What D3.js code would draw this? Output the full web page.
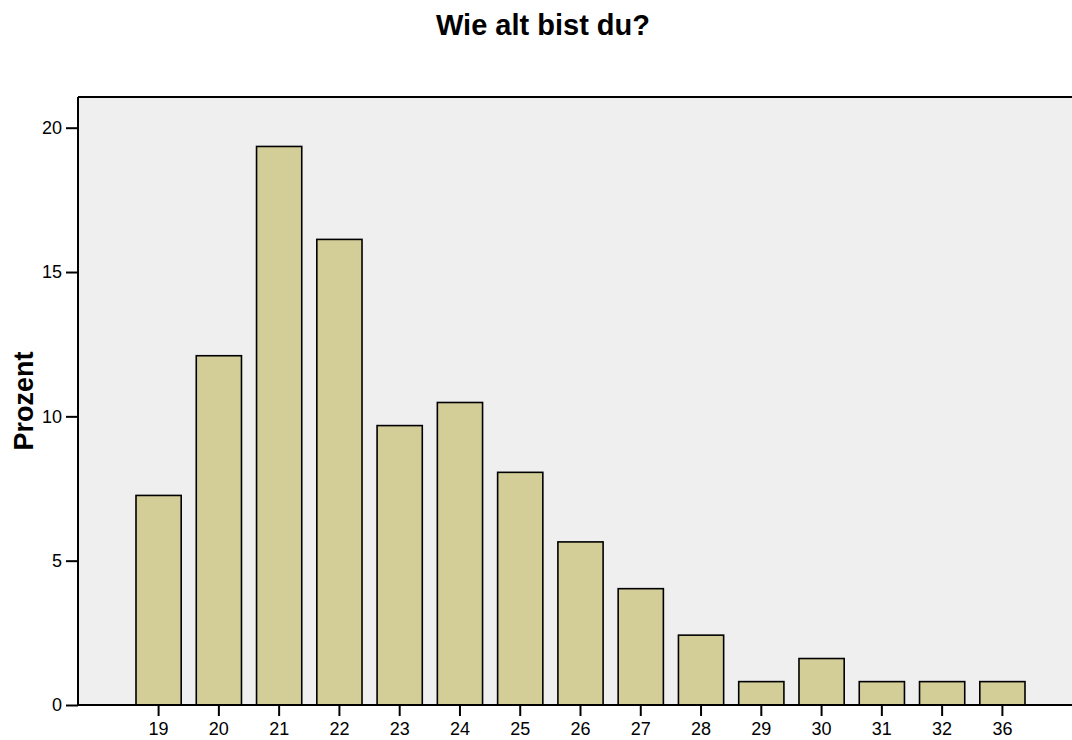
<!DOCTYPE html>
<html>
<head>
<meta charset="utf-8">
<script src="https://cdn.jsdelivr.net/npm/d3@7"></script>
<style>
  body { margin: 0; background: #fff; }
  svg { display: block; font-family: "Liberation Sans", Arial, sans-serif; }
</style>
</head>
<body>
<svg id="chart" width="1072" height="740"></svg>
<script>
// Daten: Alter und Prozent
const ages = ['19', '20', '21', '22', '23', '24', '25', '26', '27', '28', '29', '30', '31', '32', '36']
const percents = [7.26, 12.10, 19.35, 16.13, 9.68, 10.48, 8.06, 5.65, 4.03, 2.42, 0.81, 1.61, 0.81, 0.81, 0.81]
const yTicks = [0, 5, 10, 15, 20]

const svg = d3.select('#chart')

// Plotbereich
const plot = { left: 78, top: 97, right: 1072, bottom: 705 }

const x = d3.scaleBand()
  .domain(ages)
  .range([136, 1025])
  .paddingInner(0.25)
  .paddingOuter(0)

const y = d3.scaleLinear()
  .domain([0, 20])
  .range([plot.bottom, 127.7])

// Hintergrund
svg.append('rect')
  .attr('x', plot.left)
  .attr('y', plot.top)
  .attr('width', plot.right - plot.left)
  .attr('height', plot.bottom - plot.top)
  .attr('fill', '#efefef')

// Balken
svg.append('g')
  .selectAll('rect')
  .data(ages)
  .join('rect')
  .attr('x', d => x(d))
  .attr('y', (d, i) => y(percents[i]))
  .attr('width', x.bandwidth())
  .attr('height', (d, i) => y(0) - y(percents[i]))
  .attr('fill', '#d3ce98')
  .attr('stroke', '#000')
  .attr('stroke-width', 1.6)

// Rahmen oben
svg.append('line')
  .attr('x1', plot.left).attr('x2', plot.right)
  .attr('y1', plot.top).attr('y2', plot.top)
  .attr('stroke', '#000').attr('stroke-width', 2)

// Y-Achse
const yAxis = svg.append('g')
  .attr('transform', `translate(${plot.left},0)`)
  .call(d3.axisLeft(y).tickValues(yTicks).tickSize(12).tickPadding(4))
yAxis.select('.domain')
  .attr('d', `M0,${plot.top}V${plot.bottom}`)
  .attr('stroke-width', 2)
yAxis.selectAll('.tick line').attr('stroke-width', 2)
yAxis.selectAll('.tick text')
  .attr('font-size', 18)
  .attr('font-family', '"Liberation Sans", Arial, sans-serif')
  .attr('fill', '#000')

// X-Achse
const xAxis = svg.append('g')
  .attr('transform', `translate(0,${plot.bottom})`)
  .call(d3.axisBottom(x).tickSize(11).tickPadding(6))
xAxis.select('.domain')
  .attr('d', `M${plot.left},0H${plot.right}`)
  .attr('stroke-width', 2)
xAxis.selectAll('.tick line').attr('stroke-width', 2)
xAxis.selectAll('.tick text')
  .attr('font-size', 18)
  .attr('font-family', '"Liberation Sans", Arial, sans-serif')
  .attr('fill', '#000')

// Titel
svg.append('text')
  .attr('x', 543)
  .attr('y', 35)
  .attr('text-anchor', 'middle')
  .attr('font-size', 29)
  .attr('font-weight', 'bold')
  .text('Wie alt bist du?')

// Y-Achsentitel
svg.append('text')
  .attr('transform', `translate(33,${(plot.top + plot.bottom) / 2}) rotate(-90)`)
  .attr('text-anchor', 'middle')
  .attr('font-size', 27)
  .attr('font-weight', 'bold')
  .text('Prozent')
</script>
</body>
</html>
